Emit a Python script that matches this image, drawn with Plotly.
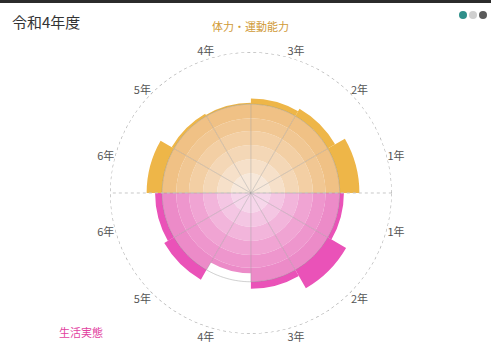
import numpy as np
import plotly.graph_objects as go

# ---- data ----
grades = ["1年", "2年", "3年", "4年", "5年", "6年"]
fitness = [77, 69, 67, 64, 65, 74]        # 体力・運動能力 (upper half)
lifestyle = [66, 78, 68, 57, 71, 68]      # 生活実態 (lower half)
theta_fit = [15, 45, 75, 105, 135, 165]
theta_life = [345, 315, 285, 255, 225, 195]

# ---- styling ----
ring_bounds = [14, 24, 34, 44, 53, 63]
orange_rings = ["#F7E8DA", "#F6E0C9", "#F4D7B6", "#F3CFA4", "#F1C793", "#F0C185"]
orange_top = "#EEB648"
pink_rings = ["#F6D6EA", "#F4C6E3", "#F2B5DB", "#F0A4D3", "#EE96CD", "#EC8BC8"]
pink_top = "#EA52B8"

fig = go.Figure()


def add_series(values, thetas, ring_colors, top_color):
    prev = [0] * len(values)
    for b, c in zip(ring_bounds, ring_colors):
        seg = [max(0, min(v, b) - p) for v, p in zip(values, prev)]
        prev = [min(v, b) for v in values]
        fig.add_trace(go.Barpolar(r=seg, theta=thetas, width=[30] * len(values),
                                  marker=dict(color=c, line=dict(width=0)),
                                  hoverinfo="skip", showlegend=False))
    seg = [max(0, v - ring_bounds[-1]) for v in values]
    fig.add_trace(go.Barpolar(r=seg, theta=thetas, width=[30] * len(values),
                              marker=dict(color=top_color, line=dict(width=0)),
                              showlegend=False))


add_series(fitness, theta_fit, orange_rings, orange_top)
add_series(lifestyle, theta_life, pink_rings, pink_top)

# spokes inside the rings
for a in range(0, 360, 30):
    fig.add_trace(go.Scatterpolar(r=[0, ring_bounds[-1]], theta=[a, a], mode="lines",
                                  line=dict(color="rgba(140,140,140,0.35)", width=1),
                                  hoverinfo="skip", showlegend=False))
# thin ring outline
circ = np.linspace(0, 360, 361)
fig.add_trace(go.Scatterpolar(r=[ring_bounds[-1]] * len(circ), theta=circ, mode="lines",
                              line=dict(color="rgba(150,150,150,0.45)", width=1),
                              hoverinfo="skip", showlegend=False))
# horizontal dotted axis
fig.add_trace(go.Scatterpolar(r=[100, 0, 100], theta=[0, 0, 180], mode="lines",
                              line=dict(color="#C8C8C8", width=1, dash="dot"),
                              hoverinfo="skip", showlegend=False))
# outer dotted circle
fig.add_trace(go.Scatterpolar(r=[100] * len(circ), theta=circ, mode="lines",
                              line=dict(color="#A8A8A8", width=1.2, dash="dot"),
                              hoverinfo="skip", showlegend=False))

fig.update_layout(
    width=491, height=344,
    margin=dict(l=0, r=0, t=0, b=0),
    paper_bgcolor="white",
    font=dict(family="Noto Sans CJK JP, Noto Sans, sans-serif", color="#555"),
    showlegend=False,
    polar=dict(
        domain=dict(x=[0.224, 0.798], y=[0.029, 0.849]),
        bgcolor="white",
        barmode="stack",
        bargap=0,
        radialaxis=dict(range=[0, 100], visible=False),
        angularaxis=dict(
            thetaunit="degrees", rotation=0, direction="counterclockwise",
            tickmode="array",
            tickvals=theta_fit + theta_life,
            ticktext=grades + grades,
            ticks="", showgrid=False, showline=False,
            tickfont=dict(size=11, color="#555"),
        ),
    ),
    annotations=[
        dict(text="令和4年度", x=0.02, y=0.975, xref="paper", yref="paper",
             xanchor="left", yanchor="top", showarrow=False,
             font=dict(size=15, color="#333")),
        dict(text="体力・運動能力", x=0.511, y=0.925, xref="paper", yref="paper",
             xanchor="center", yanchor="middle", showarrow=False,
             font=dict(size=11, color="#D09A36")),
        dict(text="生活実態", x=0.165, y=0.035, xref="paper", yref="paper",
             xanchor="center", yanchor="middle", showarrow=False,
             font=dict(size=11, color="#E2429F")),
    ],
)

W, H = 491, 344
shapes = [dict(type="rect", xref="paper", yref="paper", x0=0, x1=1, y0=1 - 3 / H, y1=1,
               fillcolor="#2b2b2b", line=dict(width=0))]
for cx, col in [(463, "#2F8F8A"), (473, "#CFCFCF"), (483, "#5A5A5A")]:
    shapes.append(dict(type="circle", xref="paper", yref="paper",
                       x0=(cx - 4) / W, x1=(cx + 4) / W,
                       y0=1 - (15 + 4) / H, y1=1 - (15 - 4) / H,
                       fillcolor=col, line=dict(width=0)))
fig.update_layout(shapes=shapes)

fig.write_html("out.html")
